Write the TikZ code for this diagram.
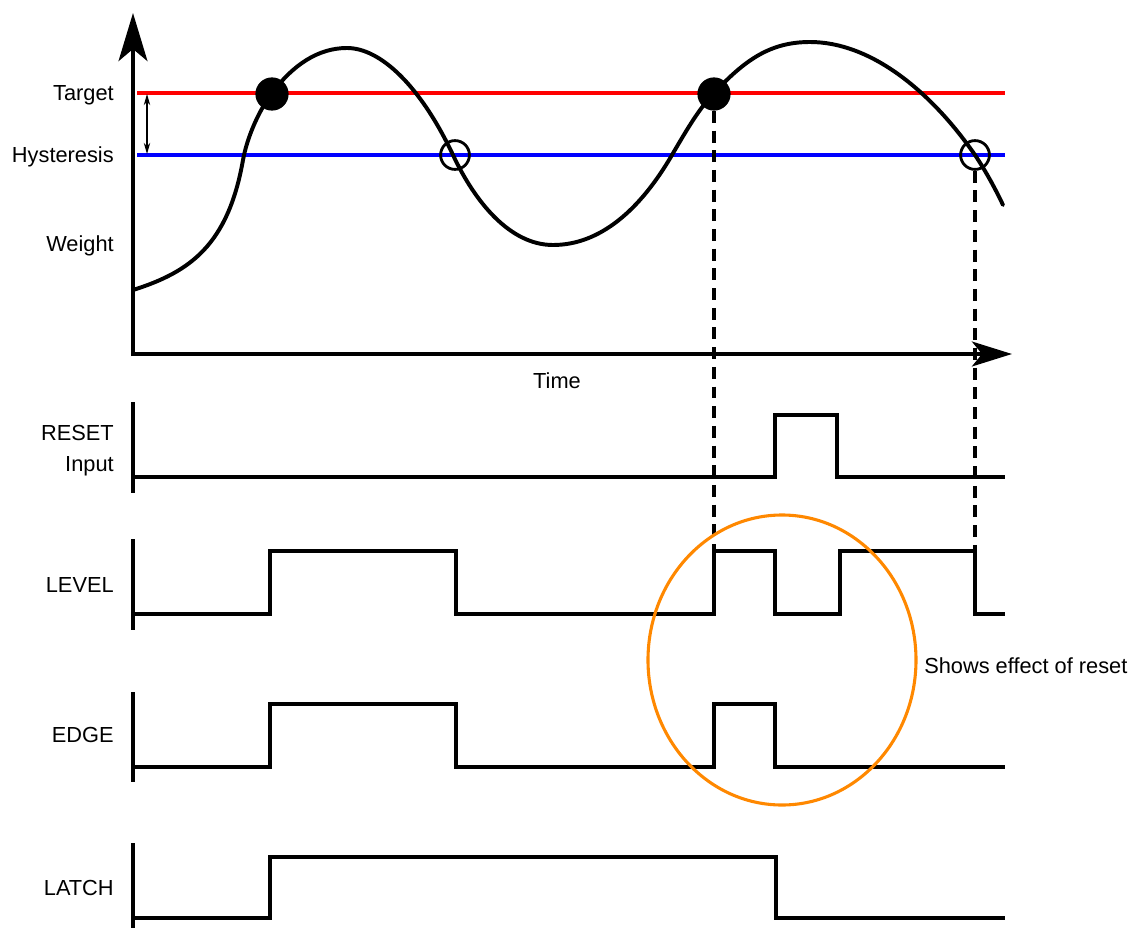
\documentclass[tikz,border=0pt]{standalone}
\usepackage{fontspec}
\setmainfont{Liberation Sans}
\usetikzlibrary{arrows.meta, positioning}
\definecolor{ringorange}{RGB}{255,136,0}
\tikzstyle{sig} = [line width=2.8pt, line join=miter]
\tikzstyle{lbl} = [anchor=base east, inner sep=0pt, font=\fontsize{15.5}{22}\selectfont]
\tikzstyle{note} = [anchor=base west, inner sep=0pt, font=\fontsize{15.5}{22}\selectfont]
\tikzstyle{hit} = [circle, fill=black, minimum size=0.83cm, inner sep=0pt]
\tikzstyle{release} = [circle, draw, line width=2pt, minimum size=0.72cm, inner sep=0pt]
\tikzstyle{guide} = [line width=2.8pt, dash pattern=on 8.5pt off 5.5pt]
\tikzstyle{bigarrow} = [line width=2.8pt, -{Stealth[length=1.2cm, width=0.72cm, inset=0.3cm]}]

\begin{document}
\begin{tikzpicture}[x=0.025cm, y=-0.025cm]
    \useasboundingbox (0,0) rectangle (1133,928);
    % weight plot
    \draw[line width=2.4pt, red] (137,93) -- (1005,93);
    \draw[line width=2.4pt, blue] (137,155) -- (1005,155);
    \coordinate (tgt) at (147,94);
    \coordinate (hys) at (147,154);
    \draw[line width=0.8pt, {Stealth[length=2.8mm, width=1.6mm]}-{Stealth[length=2.8mm, width=1.6mm]}] (tgt) -- (hys);
    \draw[line width=2.8pt, line cap=round]
      (133,290) .. controls (190,272) and (228,245) .. (243,160)
      .. controls (247,138) and (258,112) .. (272,93)
      .. controls (293,65) and (318,48) .. (347,48)
      .. controls (380,48) and (420,85) .. (453,155)
      .. controls (475,202) and (510,245) .. (553,245)
      .. controls (600,245) and (640,210) .. (672,155)
      .. controls (690,124) and (700,108) .. (714,93)
      .. controls (745,60) and (770,42) .. (810,42)
      .. controls (870,42) and (930,90) .. (975,155)
      .. controls (985,170) and (995,188) .. (1003,205);
    \draw[bigarrow] (133,356) -- (133,13);
    \draw[bigarrow, -{Stealth[length=1cm, width=0.62cm, inset=0.25cm]}] (131,354) -- (1012,354);
    \node[lbl] (target) at (114,100) {Target};
    \node[lbl] (hyst) at (114,162) {Hysteresis};
    \node[lbl] (weight) at (114,251) {Weight};
    \node[anchor=base, inner sep=0pt, font=\fontsize{15.5}{22}\selectfont] (time) at (557,388) {Time};
    \node[hit] (hit1) at (272,94) {};
    \node[hit] (hit2) at (714,94) {};
    \node[release] (rel1) at (455,155) {};
    \node[release] (rel2) at (975,155) {};

    % signal axes
    \foreach \top/\bot in {402/493, 539/630, 692/782, 843/930}
      \draw[sig] (133,\top) -- (133,\bot);
    \node[lbl, align=right] (reset) at (114,471) {RESET\\[-0.5pt]Input};
    \node[lbl] (level) at (114,592) {LEVEL};
    \node[lbl] (edge) at (114,742) {EDGE};
    \node[lbl] (latch) at (114,895) {LATCH};

    % traces
    \draw[sig] (133,477) -- (775,477) -- (775,415) -- (837,415) -- (837,477) -- (1005,477);
    \draw[sig] (133,614) -- (270,614) -- (270,551) -- (456,551) -- (456,614) -- (714,614)
      -- (714,551) -- (775,551) -- (775,614) -- (840,614) -- (840,551) -- (975,551)
      -- (975,614) -- (1005,614);
    \draw[sig] (133,767) -- (270,767) -- (270,704) -- (456,704) -- (456,767) -- (714,767)
      -- (714,704) -- (775,704) -- (775,767) -- (1005,767);
    \draw[sig] (133,918) -- (270,918) -- (270,857) -- (776,857) -- (776,918) -- (1005,918);

    % guides to LEVEL
    \coordinate (lvlon) at (714,551);
    \coordinate (lvloff) at (975,551);
    \draw[guide] (hit2.south) -- (lvlon);
    \draw[guide] (rel2.south) -- (lvloff);

    % highlight
    \draw[ringorange, line width=2.2pt] (782,660) ellipse [x radius=134, y radius=145];
    \node[note] (effect) at (924,673) {Shows effect of reset};
\end{tikzpicture}
\end{document}
